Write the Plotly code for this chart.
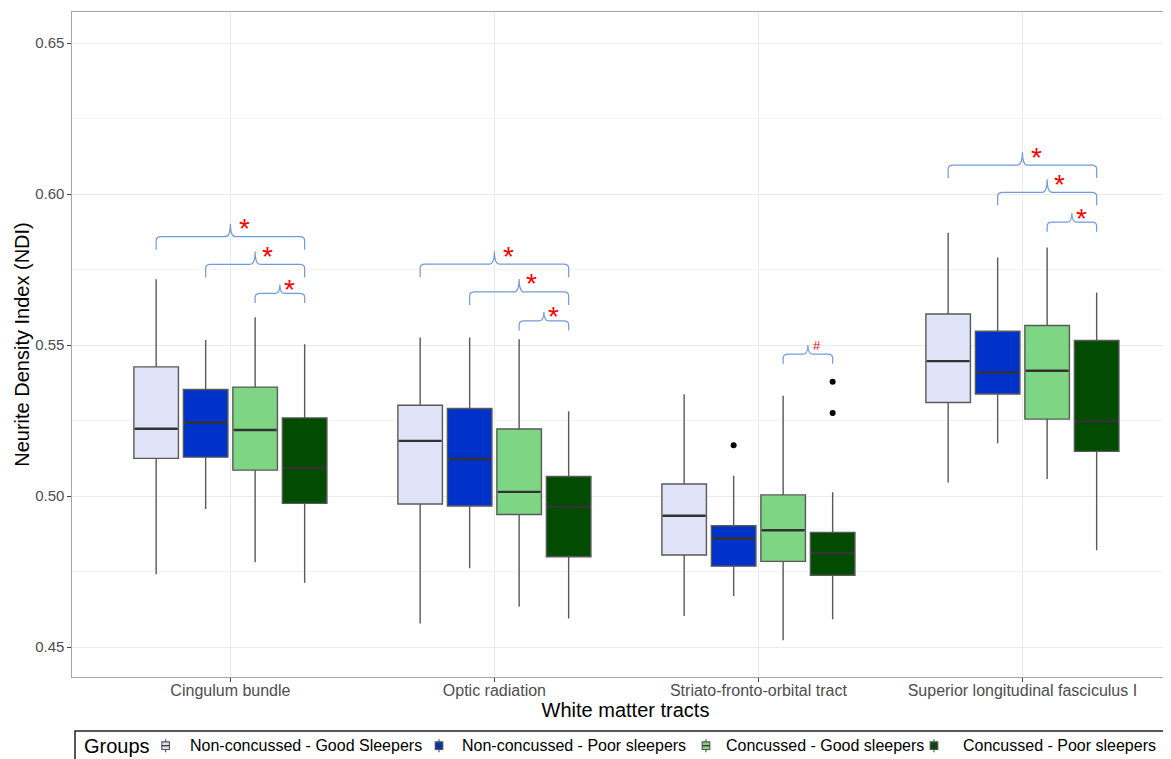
import plotly.graph_objects as go

# ---------------- data ----------------
tracts = ["Cingulum bundle", "Optic radiation", "Striato-fronto-orbital tract",
          "Superior longitudinal fasciculus I"]
groups = ["Non-concussed - Good Sleepers", "Non-concussed - Poor sleepers",
          "Concussed - Good sleepers", "Concussed - Poor sleepers"]

nc_good_lower = [0.4741, 0.4578, 0.4603, 0.5045]
nc_good_q1 = [0.5125, 0.4974, 0.4805, 0.5310]
nc_good_med = [0.5223, 0.5183, 0.4935, 0.5447]
nc_good_q3 = [0.5428, 0.5301, 0.5040, 0.5603]
nc_good_upper = [0.5718, 0.5525, 0.5337, 0.5872]

nc_poor_lower = [0.4957, 0.4761, 0.4669, 0.5175]
nc_poor_q1 = [0.5129, 0.4967, 0.4768, 0.5338]
nc_poor_med = [0.5243, 0.5123, 0.4859, 0.5409]
nc_poor_q3 = [0.5353, 0.5290, 0.4902, 0.5546]
nc_poor_upper = [0.5517, 0.5525, 0.5067, 0.5790]

c_good_lower = [0.4781, 0.4634, 0.4523, 0.5057]
c_good_q1 = [0.5086, 0.4939, 0.4784, 0.5255]
c_good_med = [0.5219, 0.5014, 0.4887, 0.5415]
c_good_q3 = [0.5361, 0.5222, 0.5004, 0.5565]
c_good_upper = [0.5592, 0.5519, 0.5332, 0.5823]

c_poor_lower = [0.4713, 0.4595, 0.4592, 0.4821]
c_poor_q1 = [0.4976, 0.4799, 0.4738, 0.5148]
c_poor_med = [0.5093, 0.4965, 0.4811, 0.5248]
c_poor_q3 = [0.5259, 0.5065, 0.4880, 0.5515]
c_poor_upper = [0.5503, 0.5281, 0.5013, 0.5674]

# outliers: (tract index, group index, value)
outlier_tract = [2, 2, 2]
outlier_group = [1, 3, 3]
outlier_value = [0.5168, 0.5379, 0.5275]

# significance brackets: tract, from group, to group, bracket level, label
bracket_tract = [0, 0, 0, 1, 1, 1, 2, 3, 3, 3]
bracket_from = [0, 1, 2, 0, 1, 2, 2, 0, 1, 2]
bracket_to = [3, 3, 3, 3, 3, 3, 3, 3, 3, 3]
bracket_level = [0.5859, 0.5767, 0.5671, 0.5768, 0.5676, 0.5580, 0.5470,
                 0.6096, 0.6006, 0.5907]
bracket_label = ["*", "*", "*", "*", "*", "*", "#", "*", "*", "*"]

y_ticks = [0.45, 0.50, 0.55, 0.60, 0.65]
legend_title = "Groups"

# ---------------- styling / geometry ----------------
colors = ["#E1E3F8", "#0031C9", "#7ED685", "#014C01"]
FONT = "Liberation Sans, Arial, Helvetica, sans-serif"
W, H = 1171, 759
OFF = 8  # default page margin of the html body
ML, MT = 64, 4
PLOT_BOTTOM = 669  # figure pixel
MR, MB = 0, H - PLOT_BOTTOM
plot_w = W - ML - MR
plot_h = H - MT - MB
PX_PER_CAT = 264.0
X_RANGE = [0.4, 0.4 + plot_w / PX_PER_CAT]
Y_RANGE = [0.4401, 0.6603]
px_x = plot_w / (X_RANGE[1] - X_RANGE[0])
px_y = plot_h / (Y_RANGE[1] - Y_RANGE[0])

dodge = 0.75 / 4
box_w = dodge * 0.9

# legend layout (pixel positions in the page)
LEG_LEFT, LEG_TOP = 75, 731
LEG_TITLE_X = 82
LEG_ICON_X = [165.6, 439.0, 706.0, 934.0]
LEG_TEXT_X = [188.0, 460.0, 724.0, 961.0]
LEG_MID_Y = 745.5


def gx(t, g):
    return t + 1 + (g - 1.5) * dodge


def pxp(px):  # page x pixel -> paper
    return (px - OFF - ML) / plot_w


def pyp(py):  # page y pixel -> paper
    return (H - MB - (py - OFF)) / plot_h


stats = [
    (nc_good_lower, nc_good_q1, nc_good_med, nc_good_q3, nc_good_upper),
    (nc_poor_lower, nc_poor_q1, nc_poor_med, nc_poor_q3, nc_poor_upper),
    (c_good_lower, c_good_q1, c_good_med, c_good_q3, c_good_upper),
    (c_poor_lower, c_poor_q1, c_poor_med, c_poor_q3, c_poor_upper),
]

fig = go.Figure()
for g, (lo, q1, med, q3, up) in enumerate(stats):
    fig.add_trace(go.Box(
        x=[gx(t, g) for t in range(len(tracts))],
        lowerfence=lo, q1=q1, median=med, q3=q3, upperfence=up,
        width=box_w, whiskerwidth=0, boxpoints=False,
        fillcolor=colors[g], line=dict(color="#595959", width=1.4),
        name=groups[g], hoverinfo="skip", showlegend=False,
    ))

# thicker median lines
mx, my = [], []
for g, (lo, q1, med, q3, up) in enumerate(stats):
    for t in range(len(tracts)):
        c = gx(t, g)
        mx += [c - box_w / 2 + 0.004, c + box_w / 2 - 0.004, None]
        my += [med[t], med[t], None]
fig.add_trace(go.Scatter(x=mx, y=my, mode="lines",
                         line=dict(color="#333333", width=2.4),
                         showlegend=False, hoverinfo="skip"))

# outliers
fig.add_trace(go.Scatter(
    x=[gx(t, g) for t, g in zip(outlier_tract, outlier_group)],
    y=outlier_value, mode="markers",
    marker=dict(color="black", size=6), showlegend=False, hoverinfo="skip"))

# brackets (curly braces)
shapes = []
annotations = []
for t, a, b, yb, lab in zip(bracket_tract, bracket_from, bracket_to,
                            bracket_level, bracket_label):
    x1, x2 = gx(t, a), gx(t, b)
    xm = (x1 + x2) / 2
    span_px = (x2 - x1) * px_x
    drop = (13 if b - a > 1 else 9.5) / px_y
    tip = (13 if b - a > 1 else 9) / px_y
    rx = 5 / px_x
    ry = 4 / px_y
    path = (f"M {x1},{yb - drop} L {x1},{yb - ry} Q {x1},{yb} {x1 + rx},{yb} "
            f"L {xm - rx},{yb} Q {xm},{yb} {xm},{yb + tip} "
            f"Q {xm},{yb} {xm + rx},{yb} L {x2 - rx},{yb} "
            f"Q {x2},{yb} {x2},{yb - ry} L {x2},{yb - drop}")
    shapes.append(dict(type="path", path=path, xref="x", yref="y",
                       line=dict(color="#6F9BDA", width=1.2), layer="above"))
    off = (7 + 0.05 * span_px) / px_x
    if lab == "*":
        annotations.append(dict(x=xm + off, y=yb + tip - 1 / px_y, text="*",
                                showarrow=False, xanchor="center",
                                yanchor="middle", yshift=-4,
                                font=dict(color="red", size=28, family=FONT)))
    else:
        annotations.append(dict(x=xm + off, y=yb + tip, text=lab,
                                showarrow=False, xanchor="center",
                                yanchor="middle",
                                font=dict(color="red", size=13, family=FONT)))

# ---- legend drawn by hand (ggplot-style, bottom, clipped by the page) ----
shapes.append(dict(type="rect", xref="paper", yref="paper",
                   x0=pxp(LEG_LEFT), x1=pxp(W + 40),
                   y0=pyp(LEG_TOP), y1=pyp(H + 40),
                   line=dict(color="#222222", width=1.5),
                   fillcolor="rgba(0,0,0,0)", layer="above"))
annotations.append(dict(xref="paper", yref="paper", x=pxp(LEG_TITLE_X),
                        y=pyp(LEG_MID_Y), text=legend_title, showarrow=False,
                        xanchor="left", yanchor="middle",
                        font=dict(size=20, color="black", family=FONT)))
for g in range(len(groups)):
    cx = LEG_ICON_X[g]
    cy = LEG_MID_Y + 0.2
    shapes.append(dict(type="line", xref="paper", yref="paper",
                       x0=pxp(cx), x1=pxp(cx), y0=pyp(cy - 6.5),
                       y1=pyp(cy + 6.5),
                       line=dict(color="#555555", width=1.2), layer="above"))
    shapes.append(dict(type="rect", xref="paper", yref="paper",
                       x0=pxp(cx - 3.8), x1=pxp(cx + 3.8),
                       y0=pyp(cy - 3.8), y1=pyp(cy + 3.8),
                       fillcolor=colors[g],
                       line=dict(color="#555555", width=1.1), layer="above"))
    shapes.append(dict(type="line", xref="paper", yref="paper",
                       x0=pxp(cx - 3.8), x1=pxp(cx + 3.8),
                       y0=pyp(cy), y1=pyp(cy),
                       line=dict(color="#333333", width=1.3), layer="above"))
    annotations.append(dict(xref="paper", yref="paper", x=pxp(LEG_TEXT_X[g]),
                            y=pyp(LEG_MID_Y), text=groups[g], showarrow=False,
                            xanchor="left", yanchor="middle",
                            font=dict(size=16, color="black", family=FONT)))

fig.update_layout(
    width=W, height=H,
    margin=dict(l=ML, r=MR, t=MT, b=MB, pad=0),
    paper_bgcolor="white", plot_bgcolor="white",
    font=dict(family=FONT, color="black"),
    boxmode="overlay",
    shapes=shapes, annotations=annotations,
    showlegend=False,
    xaxis=dict(
        range=X_RANGE, tickvals=[1, 2, 3, 4], ticktext=tracts,
        showgrid=True, gridcolor="#EBEBEB", gridwidth=1.2,
        showline=True, linecolor="#A6A6A6", linewidth=1.2, mirror=True,
        ticks="outside", ticklen=3.5, tickcolor="#444444",
        tickfont=dict(size=16, color="#4D4D4D"), zeroline=False,
        ticklabelstandoff=-5,
        title=dict(text="White matter tracts", font=dict(size=20),
                   standoff=3),
        automargin=False,
    ),
    yaxis=dict(
        range=Y_RANGE, tickvals=y_ticks, tickformat=".2f",
        showgrid=True, gridcolor="#EBEBEB", gridwidth=1.2,
        minor=dict(dtick=0.025, tick0=0.425, showgrid=True,
                   gridcolor="#F4F4F4", gridwidth=1),
        showline=True, linecolor="#A6A6A6", linewidth=1.2,
        ticks="outside", ticklen=3.5, tickcolor="#444444",
        tickfont=dict(size=15, color="#4D4D4D"), zeroline=False,
        title=dict(text="Neurite Density Index (NDI)", font=dict(size=20),
                   standoff=0),
        automargin=False,
    ),
)

fig.write_html("out.html")
